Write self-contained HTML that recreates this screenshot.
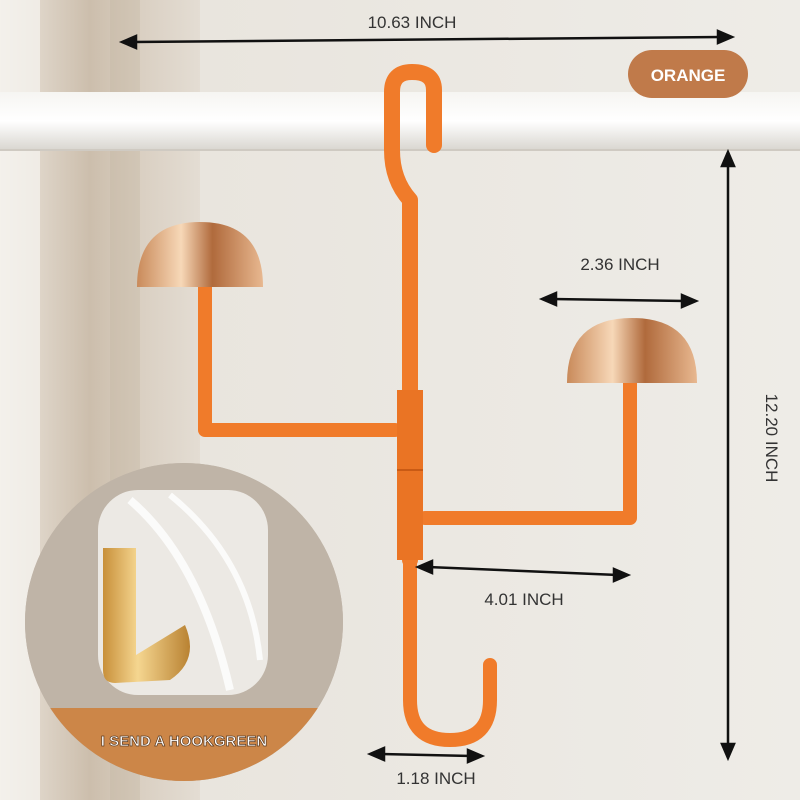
<!DOCTYPE html>
<html><head><meta charset="utf-8"><style>
html,body{margin:0;padding:0;width:800px;height:800px;overflow:hidden}
text{font-family:"Liberation Sans",sans-serif}
</style></head><body>
<svg width="800" height="800" viewBox="0 0 800 800" xmlns="http://www.w3.org/2000/svg">
<defs>
<linearGradient id="bg" x1="0" x2="1" y1="0" y2="0">
<stop offset="0" stop-color="#e6e0d8"/><stop offset="0.25" stop-color="#e9e5de"/><stop offset="1" stop-color="#eeece7"/>
</linearGradient>
<linearGradient id="cur" x1="0" x2="1">
<stop offset="0" stop-color="#f3efe9"/><stop offset="0.2" stop-color="#ddd3c6"/><stop offset="0.45" stop-color="#c9baa7"/><stop offset="0.7" stop-color="#d8cdbf"/><stop offset="1" stop-color="#e3dcd2"/>
</linearGradient>
<linearGradient id="rod" x1="0" y1="0" x2="0" y2="1">
<stop offset="0" stop-color="#f6f5f2"/><stop offset="0.5" stop-color="#ffffff"/><stop offset="1" stop-color="#d9d6d0"/>
</linearGradient>
<linearGradient id="gold" x1="0" x2="1">
<stop offset="0" stop-color="#c98a5a"/><stop offset="0.35" stop-color="#f7d8b8"/><stop offset="0.6" stop-color="#b06a3c"/><stop offset="1" stop-color="#e8b890"/>
</linearGradient>
<linearGradient id="hk" x1="0" x2="1">
<stop offset="0" stop-color="#c8903a"/><stop offset="0.4" stop-color="#f5d690"/><stop offset="1" stop-color="#b98232"/>
</linearGradient>
<clipPath id="cc"><circle cx="184" cy="622" r="159"/></clipPath>
</defs>
<rect width="800" height="800" fill="url(#bg)"/>
<rect x="0" y="0" width="200" height="800" fill="url(#cur)" opacity="0.9"/>
<rect x="0" y="0" width="40" height="800" fill="#f4f1ec" opacity="0.8"/>
<rect x="110" y="0" width="30" height="800" fill="#c4b4a0" opacity="0.35"/>
<rect x="0" y="92" width="800" height="58" fill="url(#rod)"/>
<line x1="0" y1="150" x2="800" y2="150" stroke="#cfcac2" stroke-width="2"/>
<g fill="none" stroke="#f07b2a" stroke-linecap="round" stroke-linejoin="round">
<path d="M434 145 L434 90 Q434 72 412 72 Q392 72 392 92 L392 150 Q392 180 410 200 L410 560" stroke-width="16"/>
<path d="M410 560 L410 700 Q410 740 450 740 Q490 740 490 700 L490 665" stroke-width="14"/>
<path d="M395 430 L205 430 L205 285" stroke-width="14"/>
<path d="M425 518 L630 518 L630 380" stroke-width="14"/>
</g>
<rect x="397" y="390" width="26" height="170" fill="#ea7424"/>
<line x1="397" y1="470" x2="423" y2="470" stroke="#c95a14" stroke-width="2"/>
<path d="M137 287 Q137 222 200 222 Q263 222 263 287 Z" fill="url(#gold)"/>
<path d="M567 383 Q567 318 632 318 Q697 318 697 383 Z" fill="url(#gold)"/>
<circle cx="184" cy="622" r="159" fill="#c2b8ac"/>
<g clip-path="url(#cc)">
<rect x="25" y="460" width="320" height="330" fill="#bfb4a7"/>
<rect x="98" y="490" width="170" height="205" rx="40" fill="#ece9e4"/>
<path d="M130 500 Q200 560 230 690" stroke="#fff" stroke-width="8" fill="none" opacity="0.8"/>
<path d="M170 495 Q250 560 260 660" stroke="#fff" stroke-width="6" fill="none" opacity="0.8"/>
<path d="M103 548 L136 548 L136 655 L185 625 Q200 660 170 680 L115 683 Q103 683 103 670 Z" fill="url(#hk)"/>
<rect x="0" y="708" width="360" height="90" fill="#cc8648"/>
</g>
<text x="184" y="746" font-size="15" font-weight="bold" fill="#fff" text-anchor="middle" stroke="#5a3a20" stroke-width="0.7">I SEND A HOOKGREEN</text>
<rect x="628" y="50" width="120" height="48" rx="24" fill="#c07a4a"/>
<text x="688" y="81" font-size="17" font-weight="bold" fill="#fff" text-anchor="middle">ORANGE</text>
<g stroke="#111" stroke-width="2.5" fill="#111">
<line x1="132" y1="42" x2="722" y2="37"/>
<path d="M122 42 L136 36 L136 48 Z"/><path d="M732 37 L718 31 L718 43 Z"/>
<line x1="552" y1="299" x2="686" y2="301"/>
<path d="M542 299 L556 293 L556 305 Z"/><path d="M696 301 L682 295 L682 307 Z"/>
<line x1="428" y1="567" x2="618" y2="575"/>
<path d="M418 567 L432 561 L432 573 Z"/><path d="M628 575 L614 569 L614 581 Z"/>
<line x1="380" y1="754" x2="472" y2="756"/>
<path d="M370 754 L384 748 L384 760 Z"/><path d="M482 756 L468 750 L468 762 Z"/>
<line x1="728" y1="162" x2="728" y2="748"/>
<path d="M728 152 L722 166 L734 166 Z"/><path d="M728 758 L722 744 L734 744 Z"/>
</g>
<g font-size="17" fill="#333">
<text x="412" y="28" text-anchor="middle">10.63 INCH</text>
<text x="620" y="270" text-anchor="middle">2.36 INCH</text>
<text x="524" y="605" text-anchor="middle">4.01 INCH</text>
<text x="436" y="784" text-anchor="middle">1.18 INCH</text>
<text x="0" y="0" transform="translate(766,438) rotate(90)" text-anchor="middle">12.20 INCH</text>
</g>
</svg>
</body></html>
